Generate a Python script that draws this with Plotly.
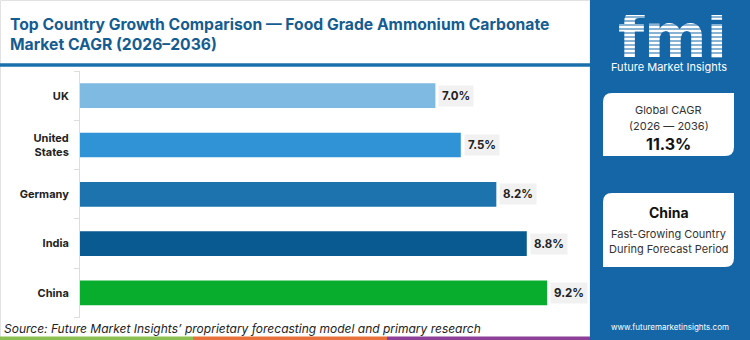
import plotly.graph_objects as go

# ---- data ----
countries = ["UK", "United States", "Germany", "India", "China"]
country_labels = ["UK", "United<br>States", "Germany", "India", "China"]
cagr = [7.0, 7.5, 8.2, 8.8, 9.2]
global_cagr = "11.3%"
top_country = "China"

# ---- style ----
bar_colors = ["#7fbae2", "#2f93d5", "#1d73ae", "#085a90", "#09ad2d"]
W, H = 750, 340
FONT = "Inter"
PANEL_BLUE = "#1566a7"

def px(x):
    return x / W

def py(y):
    return 1 - y / H

fig = go.Figure()
fig.add_trace(go.Bar(
    y=countries, x=cagr, orientation="h",
    marker=dict(color=bar_colors, line=dict(width=0)),
    width=0.5, hoverinfo="skip", showlegend=False,
))

annotations = []
for c, v in zip(countries, cagr):
    annotations.append(dict(
        x=v, y=c, xref="x", yref="y", text=f"<b>{v:.1f}%</b>",
        showarrow=False, xanchor="left", xshift=3,
        font=dict(family=FONT, size=11.5, color="#222"),
        bgcolor="#f1f1f1", borderpad=3,
    ))

shapes = []
# left card outline
shapes.append(dict(type="rect", xref="paper", yref="paper", x0=px(0.5), x1=px(590), y0=py(339.5), y1=py(0.5),
                   line=dict(color="#e2e2e2", width=1), fillcolor="rgba(0,0,0,0)", layer="below"))
# title underline
shapes.append(dict(type="rect", xref="paper", yref="paper", x0=0, x1=px(590), y0=py(66.7), y1=py(63.3),
                   line=dict(width=0), fillcolor="#1a70ad"))
# bottom colored stripe
for x0, x1, col in [(0, 193, "#8cc152"), (193, 387, "#e8703a"), (387, 590, "#8e3f9a")]:
    shapes.append(dict(type="rect", xref="paper", yref="paper", x0=px(x0), x1=px(x1), y0=0, y1=py(336.5),
                       line=dict(width=0), fillcolor=col))
# right panel
shapes.append(dict(type="rect", xref="paper", yref="paper", x0=px(590), x1=1, y0=0, y1=1,
                   line=dict(width=0), fillcolor=PANEL_BLUE, layer="below"))

def rounded_box(x0, y0, x1, y1, r):
    # rounded top-left and bottom-right corners (pixel coords)
    X = lambda v: px(v)
    Y = lambda v: py(v)
    return (f"M {X(x0+r)},{Y(y0)} L {X(x1)},{Y(y0)} L {X(x1)},{Y(y1-r)} "
            f"Q {X(x1)},{Y(y1)} {X(x1-r)},{Y(y1)} L {X(x0)},{Y(y1)} L {X(x0)},{Y(y0+r)} "
            f"Q {X(x0)},{Y(y0)} {X(x0+r)},{Y(y0)} Z")

for (x0, y0, x1, y1) in [(603, 93, 734, 156), (603, 193, 734, 267)]:
    shapes.append(dict(type="path", xref="paper", yref="paper", path=rounded_box(x0, y0, x1, y1, 9),
                       fillcolor="#ffffff", line=dict(width=0)))

# logo stripes (drawn above the logo text trace)
for yy in range(13, 57, 4):
    shapes.append(dict(type="line", xref="paper", yref="paper", x0=px(606), x1=px(738), y0=py(yy), y1=py(yy),
                       line=dict(color=PANEL_BLUE, width=1.2), layer="above"))

# logo text as a scatter text trace on an overlay axis
fig.add_trace(go.Scatter(
    x=[0.5], y=[0.5], mode="text", text=["<b>fmi</b>"],
    textfont=dict(family="DejaVu Sans", size=60, color="white"),
    xaxis="x2", yaxis="y2", hoverinfo="skip", showlegend=False,
))

def txt(x, y, s, size, color="#333", bold=False, italic=False, xanchor="center", family=FONT):
    if bold:
        s = f"<b>{s}</b>"
    if italic:
        s = f"<i>{s}</i>"
    annotations.append(dict(x=px(x), y=py(y), xref="paper", yref="paper", text=s, showarrow=False,
                            xanchor=xanchor, yanchor="middle", font=dict(family=family, size=size, color=color)))

# title
annotations.append(dict(x=px(8), y=py(35), xref="paper", yref="paper", xanchor="left", yanchor="middle",
                        align="left", showarrow=False,
                        text="<b>Top Country Growth Comparison — Food Grade Ammonium Carbonate<br>Market CAGR (2026–2036)</b>",
                        font=dict(family=FONT, size=15.7, color="#155d91")))
# source
txt(2, 328, "Source: Future Market Insights’ proprietary forecasting model and primary research", 12,
    color="#222", italic=True, xanchor="left")
# panel texts
txt(669, 67, "Future Market Insights", 11, color="white")
txt(668.5, 110.5, "Global CAGR", 11)
txt(668.5, 126, "(2026 — 2036)", 11)
txt(668.5, 143.5, global_cagr, 16, color="#111", bold=True)
txt(668.5, 212, top_country, 14, color="#111", bold=True)
txt(668.5, 234, "Fast-Growing Country", 11)
txt(668.5, 249, "During Forecast Period", 11)
txt(670, 327, "www.futuremarketinsights.com", 8, color="white")

fig.update_layout(
    width=W, height=H, margin=dict(l=0, r=0, t=0, b=0),
    paper_bgcolor="white", plot_bgcolor="white",
    shapes=shapes, annotations=annotations,
    xaxis=dict(domain=[px(80), px(590)], range=[0, 10.045], visible=False, fixedrange=True),
    yaxis=dict(domain=[py(317.6), py(71)], autorange="reversed", type="category",
               tickvals=countries, ticktext=[f"<b>{t}</b>" for t in country_labels],
               tickfont=dict(family=FONT, size=11, color="#222"),
               showline=True, linecolor="#dddddd", linewidth=1,
               ticks="outside", ticklen=5, tickcolor="#dddddd", tickson="boundaries",
               ticklabelstandoff=8,
               showgrid=False, zeroline=False, fixedrange=True),
    xaxis2=dict(domain=[px(600), px(745)], range=[0, 1], visible=False, fixedrange=True),
    yaxis2=dict(domain=[py(68), py(15)], range=[0, 1], visible=False, fixedrange=True),
)

fig.write_html("out.html", config={"displayModeBar": False})
